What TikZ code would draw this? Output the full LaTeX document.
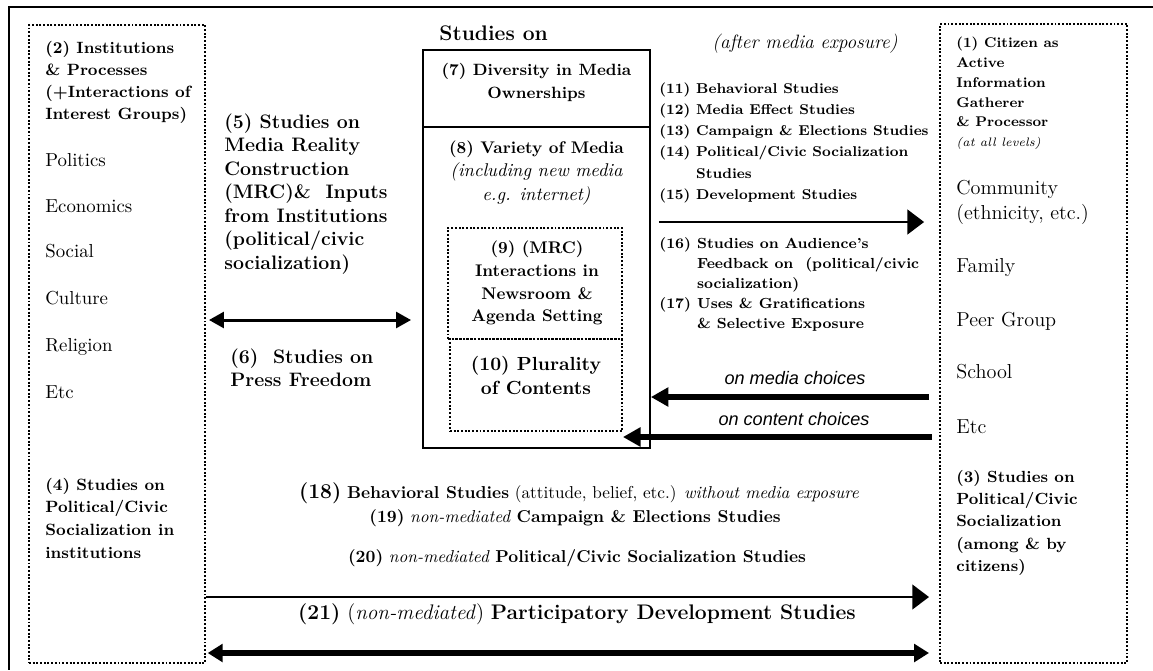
\documentclass[tikz,border=0pt]{standalone}
\usepackage{fontspec}
\newfontfamily\arialfont{Liberation Sans}
\usetikzlibrary{arrows.meta,fit}
\newcommand{\fsz}[2]{\fontsize{#1}{#2}\selectfont}

\begin{document}
\begin{tikzpicture}[x=0.02cm,y=-0.02cm,
every node/.style={inner sep=0pt},
txt/.style={anchor=north west,align=left,yshift=-1.7pt,execute at begin node=\strut},
ctxt/.style={anchor=north,align=center,yshift=-1.7pt,execute at begin node=\strut},
dotbox/.style={draw,line width=1.1pt,dash pattern=on 1.1pt off 1pt},
solidbox/.style={draw,line width=1pt},
thinarr/.style={line width=1.4pt,-{Triangle[length=9.5pt,width=14pt]}},
thickarr/.style={line width=3.4pt,-{Triangle[length=10pt,width=10.5pt]}},
dblmid/.style={line width=1.7pt,{Triangle[length=8.5pt,width=9pt]}-{Triangle[length=8.5pt,width=9pt]}},
dblthick/.style={line width=3.4pt,{Triangle[length=8.5pt,width=10pt]}-{Triangle[length=8.5pt,width=10pt]}}]
\useasboundingbox (0,0) rectangle (1153,670);
\draw[line width=1.2pt] (1153,7) -- (9,7) -- (9,670);

%the boxes
\node[dotbox,fit={(29,25) (205,663)}] (inst) {};
\node[dotbox,fit={(940,24) (1127,663)}] (citizen) {};
\node[solidbox,fit={(423,50) (650,127)}] (owner) {};
\node[solidbox,fit={(423,127) (650,448)}] (media) {};
\node[dotbox,fit={(448,228) (622,339)}] (agenda) {};
\node[dotbox,fit={(450,339) (622,431)}] (plural) {};

%institutions side
\node[txt,font=\bfseries\fsz{9.3}{12.35}] (insthead) at (45,38.4) {(2) Institutions\\\& Processes\\(+Interactions of\\Interest Groups)};
\foreach \t/\y [count=\i] in {Politics/160,Economics/206,Social/251,Culture/298,Religion/345,Etc/392}
	\node[anchor=base west,font=\fsz{10.7}{13}] (l\i) at (45,\y+6.5) {\t};
\node[txt,font=\bfseries\fsz{9.3}{12.9}] (socinst) at (45,474.7) {(4) Studies on\\Political/Civic\\Socialization in\\institutions};

\node[txt,font=\bfseries\fsz{11.1}{13.4}] (mrc) at (224,110.2) {(5) Studies on\\Media Reality\\Construction\\(MRC)\& \ Inputs\\from Institutions\\(political/civic\\socialization)};
\node[txt,font=\bfseries\fsz{11.1}{13.1}] (press) at (230,345.2) {(6)\ \ Studies on\\Press Freedom};

%media in the middle
\node[anchor=base west,font=\bfseries\fsz{12}{14}] (studies) at (439,40.2) {Studies on};
\node[ctxt,font=\bfseries\fsz{9.3}{13.1}] (ownt) at (536.5,59.5) {(7) Diversity in Media\\Ownerships};
\node[ctxt,font=\bfseries\fsz{9.6}{13.4}] (vart) at (536.5,137.3) {(8) Variety of Media\\{\normalfont\itshape\fsz{10.5}{13.4}(including new media}\\{\normalfont\itshape\fsz{10.5}{13.4}e.g. internet)}};
\node[ctxt,font=\bfseries\fsz{9.6}{12.9}] (agendat) at (537,237.9) {(9) (MRC)\\Interactions in\\Newsroom \&\\Agenda Setting};
\node[ctxt,font=\bfseries\fsz{10.8}{13.7}] (pluralt) at (536,352.7) {(10) Plurality\\of Contents};

%effects and feedback
\node[anchor=base,font=\itshape\fsz{11}{13}] (after) at (805,48) {(after media exposure)};
\node[txt,font=\bfseries\fsz{8.1}{12.1}] (effects) at (659,79) {(11) Behavioral Studies\\(12) Media Effect Studies\\(13) Campaign \& Elections Studies\\(14) Political/Civic Socialization\\\phantom{(14) }Studies\\(15) Development Studies};
\node[txt,font=\bfseries\fsz{8.3}{11.4}] (feedback) at (659,234.2) {(16) Studies on Audience's\\\phantom{(16) }Feedback on\ \ (political/civic\\\phantom{(16) }socialization)\\(17) Uses \& Gratifications\\\phantom{(17) }\& Selective Exposure};
\node[anchor=base,font=\arialfont\itshape\fsz{10.3}{12}] (mchoice) at (795,384.5) {on media choices};
\node[anchor=base,font=\arialfont\itshape\fsz{10.3}{12}] (cchoice) at (794,425.5) {on content choices};

%citizen side
\node[txt,font=\bfseries\fsz{8}{11.24}] (cithead) at (956,34) {(1) Citizen as\\Active\\Information\\Gatherer\\\& Processor\\{\normalfont\itshape\fsz{7}{10}(at all levels)}};
\node[txt,font=\fsz{11.5}{14.2}] (community) at (956,177.4) {Community\\(ethnicity, etc.)};
\foreach \t/\y [count=\i] in {Family/266,Peer Group/320,School/372,Etc/427}
	\node[anchor=base west,font=\fsz{11.5}{14}] (r\i) at (956,\y+6.9) {\t};
\node[txt,font=\bfseries\fsz{9.2}{12.7}] (citsoc) at (956,466.9) {(3) Studies on\\Political/Civic\\Socialization\\(among \& by\\citizens)};

%non-mediated studies
\node[anchor=base,font=\fsz{9.8}{12}] (behav) at (579,498.9) {\textbf{\fsz{12}{14}(18)} \textbf{Behavioral Studies} (attitude, belief, etc.) \textit{without media exposure}};
\node[anchor=base,font=\fsz{9.8}{12}] (campaign) at (575,522.9) {\textbf{(19)} \textit{non-mediated} \textbf{Campaign \& Elections Studies}};
\node[anchor=base,font=\fsz{9.8}{12}] (polsoc) at (577,562.9) {\textbf{(20)} \textit{non-mediated} \textbf{Political/Civic Socialization Studies}};
\node[anchor=base,font=\fsz{12}{14}] (partic) at (577,619) {\textbf{(21)} (\textit{non-mediated}) \textbf{Participatory Development Studies}};

%levels of the arrows
\coordinate (yMRC) at (0,320);
\coordinate (yEff) at (0,222);
\coordinate (yMed) at (0,397);
\coordinate (yCon) at (0,437);
\coordinate (yPart) at (0,597);
\coordinate (yBoth) at (0,653);

\draw[dblmid,shorten <=1.7pt,shorten >=6.3pt] (inst.east |- yMRC) -- (media.west |- yMRC);
\draw[thinarr,shorten <=4.6pt,shorten >=8.5pt] (media.east |- yEff) -- (citizen.west |- yEff);
\draw[thickarr,shorten <=5.7pt] (citizen.west |- yMed) -- (media.east |- yMed);
\draw[thickarr,shorten <=4pt] (citizen.west |- yCon) -- (plural.east |- yCon);
\draw[thinarr,shorten >=5.7pt] (inst.east |- yPart) -- (citizen.west |- yPart);
\draw[dblthick,shorten <=1pt,shorten >=5.7pt] (inst.east |- yBoth) -- (citizen.west |- yBoth);

\end{tikzpicture}
\end{document}
